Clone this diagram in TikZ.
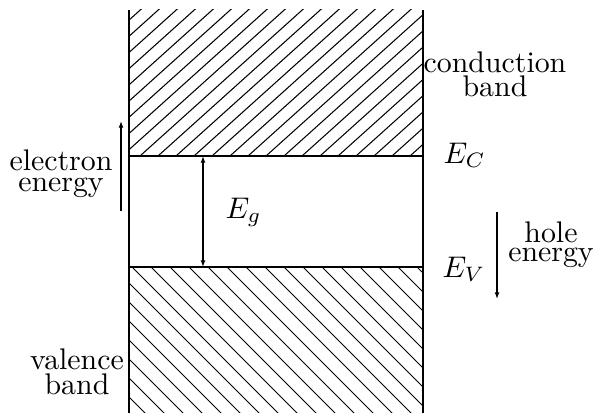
\documentclass[tikz,border=0pt]{standalone}
\usetikzlibrary{arrows.meta}
\begin{document}
\begin{tikzpicture}[x=0.335pt,y=-0.335pt,
  edge/.style={line width=0.45pt},
  hatchline/.style={line width=0.35pt},
  arr/.style={line width=0.4pt,-{Latex[length=2.2pt,width=1.6pt]}},
  darr/.style={line width=0.4pt,{Latex[length=2.2pt,width=1.6pt]}-{Latex[length=2.2pt,width=1.6pt]}},
  lbl/.style={inner sep=0pt,align=center}]
\useasboundingbox (0,0) rectangle (594,413);
% corner coordinates
\coordinate (tl) at (129,10);
\coordinate (bl) at (129,413);
\coordinate (tr) at (423,10);
\coordinate (br) at (423,413);
\coordinate (cl) at (129,156);
\coordinate (cr) at (423,156);
\coordinate (vl) at (129,267);
\coordinate (vr) at (423,267);
% hatching conduction band
\begin{scope}
  \clip (tl) rectangle (cr);
  \foreach \i in {-10,...,16}
    \draw[hatchline] (140+18*\i,156) -- ++(200,-180);
\end{scope}
% hatching valence band
\begin{scope}
  \clip (vl) rectangle (br);
  \foreach \i in {-10,...,16}
    \draw[hatchline] (132+19*\i,267) -- ++(200,200);
\end{scope}
% edges
\draw[edge] (tl) -- (bl);
\draw[edge] (tr) -- (br);
\draw[edge] (cl) -- (cr);
\draw[edge] (vl) -- (vr);
% gap arrow
\coordinate (gt) at (203,156);
\coordinate (gb) at (203,267);
\draw[darr] (gt) -- (gb);
\node[inner sep=0pt,anchor=base west] (eg) at (225,218) {$E_g$};
% energy arrows
\coordinate (ea1) at (121,211);
\coordinate (ea2) at (121,121);
\draw[arr] (ea1) -- (ea2);
\coordinate (ha1) at (497,212);
\coordinate (ha2) at (497,299);
\draw[arr] (ha1) -- (ha2);
% labels
\node[lbl,font=\fontsize{10}{7}\selectfont] (electron) at (61,173.5) {electron\\energy};
\node[lbl,font=\fontsize{10}{8}\selectfont] (cond) at (495,74) {conduction\\band};
\node[lbl,font=\fontsize{10}{6.5}\selectfont] (hole) at (551,245) {hole\\energy};
\node[lbl,font=\fontsize{10}{8.5}\selectfont] (val) at (77,372) {valence\\band};
\node[inner sep=0pt,anchor=base west] (ec) at (443,163) {$E_C$};
\node[inner sep=0pt,anchor=base west] (ev) at (442,277) {$E_V$};
\end{tikzpicture}
\end{document}
